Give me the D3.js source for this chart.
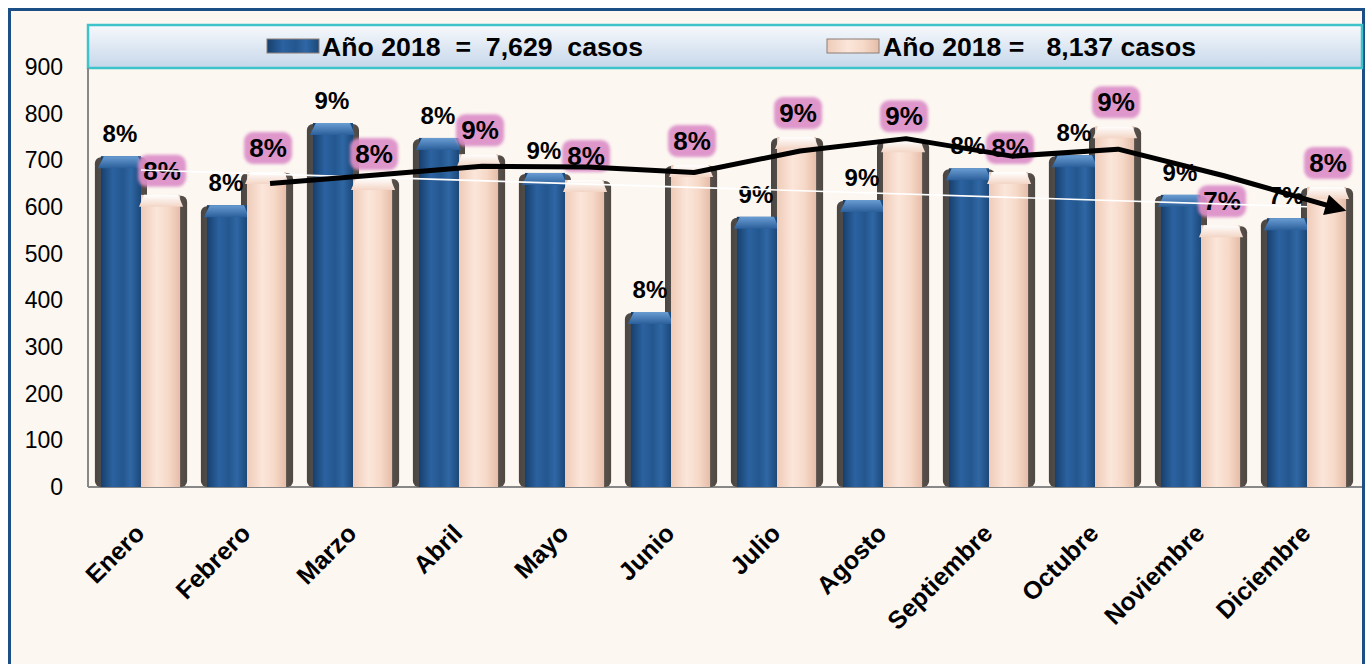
<!DOCTYPE html>
<html lang="es">
<head>
  <meta charset="UTF-8">
  <title>Casos por mes 2018</title>
  <script src="https://d3js.org/d3.v7.min.js"></script>
  <style>
    body { margin: 0; background: #fff; }
    svg { display: block; font-family: "Liberation Sans", Arial, sans-serif; }
    .tick-label { font-size: 23px; fill: #000; text-anchor: end; }
    .month-label { font-size: 25px; font-weight: bold; fill: #000; text-anchor: end; }
    .pct-blue { font-size: 24px; font-weight: bold; fill: #000; text-anchor: middle; }
    .pct-pink { font-size: 26px; font-weight: bold; fill: #000; text-anchor: middle; }
    .legend-text { font-size: 25px; font-weight: bold; fill: #000; white-space: pre; }
  </style>
</head>
<body>
  <svg width="1372" height="664"></svg>

  <script>
    // data
    const months = ["Enero", "Febrero", "Marzo", "Abril", "Mayo", "Junio", "Julio",
      "Agosto", "Septiembre", "Octubre", "Noviembre", "Diciembre"];
    const blueValues = [709, 604, 780, 748, 673, 375, 579, 615, 683, 711, 626, 576];
    const pinkValues = [626, 675, 662, 713, 658, 690, 750, 743, 675, 773, 561, 643];
    const bluePct = ["8%", "8%", "9%", "8%", "9%", "8%", "9%", "9%", "8%", "8%", "9%", "7%"];
    const pinkPct = ["8%", "8%", "8%", "9%", "8%", "8%", "9%", "9%", "8%", "9%", "7%", "8%"];
    const legendLabels = ["Año 2018  =  7,629  casos", "Año 2018 =   8,137 casos"];
    const yTicks = [0, 100, 200, 300, 400, 500, 600, 700, 800, 900];

    const svg = d3.select("svg");
    const plot = { left: 88, right: 1360, top: 67, bottom: 487 };

    const x = d3.scaleBand()
      .domain(months)
      .range([plot.left, plot.right])
      .paddingInner(0.13)
      .paddingOuter(0.065);

    const xs = d3.scaleBand()
      .domain(["blue", "pink"])
      .range([0, x.bandwidth()]);

    const y = d3.scaleLinear()
      .domain([0, 900])
      .range([plot.bottom, plot.top]);

    // gradients and filters
    const defs = svg.append("defs");
    function grad(id, stops, vertical) {
      const g = defs.append("linearGradient").attr("id", id);
      if (vertical) g.attr("x1", 0).attr("x2", 0).attr("y1", 0).attr("y2", 1);
      stops.forEach(s => g.append("stop").attr("offset", s[0]).attr("stop-color", s[1]));
    }
    grad("gBlue", [["0%", "#173f6c"], ["30%", "#2b62a0"], ["55%", "#24578f"], ["75%", "#2f67a5"], ["100%", "#1b4879"]]);
    grad("gBlueTop", [["0%", "#6a9dd2"], ["100%", "#2b5f9b"]], true);
    grad("gPink", [["0%", "#efcbb8"], ["40%", "#fbe6da"], ["70%", "#f6d9c8"], ["100%", "#e6bda9"]]);
    grad("gPinkTop", [["0%", "#ffffff"], ["100%", "#f3d5c5"]], true);
    grad("gShadow", [["0%", "#4a4541"], ["50%", "#6b635d"], ["100%", "#4f4843"]]);
    grad("gLegend", [["0%", "#f7f9fc"], ["100%", "#c6d7ea"]], true);

    defs.append("filter").attr("id", "blur")
      .attr("x", "-30%").attr("y", "-30%").attr("width", "160%").attr("height", "160%")
      .append("feGaussianBlur").attr("stdDeviation", 1.8);

    defs.append("marker")
      .attr("id", "arrow")
      .attr("viewBox", "0 0 10 10")
      .attr("refX", 2).attr("refY", 5)
      .attr("markerWidth", 5).attr("markerHeight", 4.2)
      .attr("orient", "auto")
      .attr("markerUnits", "strokeWidth")
      .append("path")
      .attr("d", "M0,0L10,5L0,10Z")
      .attr("fill", "#000");

    // frame
    svg.append("rect")
      .attr("x", 9.5).attr("y", 9.5)
      .attr("width", 1354).attr("height", 700)
      .attr("fill", "#fcf7f1")
      .attr("stroke", "#1c4f86")
      .attr("stroke-width", 3);

    // legend box
    svg.append("rect")
      .attr("x", 88).attr("y", 25)
      .attr("width", 1274).attr("height", 43)
      .attr("fill", "url(#gLegend)")
      .attr("stroke", "#3ec3ca")
      .attr("stroke-width", 2.5);

    const legendItems = [
      { sx: 267, tx: 322, len: 321, fill: "url(#gBlue)", label: legendLabels[0] },
      { sx: 827, tx: 883, len: 313, fill: "url(#gPink)", label: legendLabels[1] }
    ];
    legendItems.forEach(d => {
      svg.append("rect")
        .attr("x", d.sx).attr("y", 39).attr("width", 52).attr("height", 14)
        .attr("fill", d.fill).attr("stroke", "#8a7f78").attr("stroke-width", 1);
      svg.append("text")
        .attr("class", "legend-text")
        .attr("x", d.tx).attr("y", 56)
        .attr("textLength", d.len)
        .attr("lengthAdjust", "spacingAndGlyphs")
        .text(d.label);
    });

    // axes
    svg.append("line")
      .attr("x1", plot.left).attr("x2", plot.left)
      .attr("y1", 68).attr("y2", plot.bottom)
      .attr("stroke", "#888").attr("stroke-width", 2);
    svg.append("line")
      .attr("x1", plot.left).attr("x2", 1362)
      .attr("y1", plot.bottom).attr("y2", plot.bottom)
      .attr("stroke", "#888").attr("stroke-width", 2);

    svg.selectAll(".tick-label")
      .data(yTicks)
      .join("text")
      .attr("class", "tick-label")
      .attr("x", 63)
      .attr("y", d => y(d) + 8)
      .text(d => d);

    // bars
    const groups = svg.selectAll(".month")
      .data(months)
      .join("g")
      .attr("class", "month")
      .attr("transform", d => `translate(${x(d)},0)`);

    const w = xs.bandwidth();

    groups.each(function (m, i) {
      const g = d3.select(this);
      const bTop = y(blueValues[i]);
      const pTop = y(pinkValues[i]);
      const bx = xs("blue");
      const px = xs("pink");

      // dark cylinder edges behind both bars
      g.append("rect")
        .attr("x", bx).attr("y", bTop + 1)
        .attr("width", w + 6).attr("height", plot.bottom - bTop - 1)
        .attr("rx", 6)
        .attr("fill", "url(#gShadow)");
      g.append("rect")
        .attr("x", px - 6).attr("y", pTop + 1)
        .attr("width", w + 6).attr("height", plot.bottom - pTop - 1)
        .attr("rx", 6)
        .attr("fill", "url(#gShadow)");

      // blue face
      g.append("rect")
        .attr("x", bx + 6).attr("y", bTop)
        .attr("width", w - 6).attr("height", plot.bottom - bTop)
        .attr("fill", "url(#gBlue)");
      g.append("path")
        .attr("d", `M${bx + 3},${bTop + 12}L${bx + 9},${bTop}L${bx + w - 3},${bTop}L${bx + w + 2},${bTop + 12}Z`)
        .attr("fill", "url(#gBlueTop)");

      // pink face
      g.append("rect")
        .attr("x", px).attr("y", pTop)
        .attr("width", w - 7).attr("height", plot.bottom - pTop)
        .attr("fill", "url(#gPink)");
      g.append("path")
        .attr("d", `M${px - 2},${pTop + 12}L${px + 3},${pTop}L${px + w - 9},${pTop}L${px + w - 4},${pTop + 12}Z`)
        .attr("fill", "url(#gPinkTop)");
    });

    // percentage labels
    groups.each(function (m, i) {
      const g = d3.select(this);
      const bc = xs("blue") + w / 2 + 2;
      const pc = xs("pink") + w / 2 - 2;
      const by = y(blueValues[i]) - 22;
      const py = y(pinkValues[i]) - 24;

      g.append("text")
        .attr("class", "pct-blue")
        .attr("x", bc).attr("y", by + 8)
        .text(bluePct[i]);

      g.append("rect")
        .attr("x", pc - 24).attr("y", py - 16)
        .attr("width", 48).attr("height", 32)
        .attr("rx", 9)
        .attr("fill", "#dc8ec8")
        .attr("opacity", 0.92)
        .attr("filter", "url(#blur)");
      g.append("text")
        .attr("class", "pct-pink")
        .attr("x", pc).attr("y", py + 9)
        .text(pinkPct[i]);
    });

    // linear trend of blue series (white)
    const idx = d3.range(months.length);
    const mx = d3.mean(idx), my = d3.mean(blueValues);
    const slope = d3.sum(idx, i => (i - mx) * (blueValues[i] - my)) / d3.sum(idx, i => (i - mx) ** 2);
    const icpt = my - slope * mx;
    const center = m => x(m) + x.bandwidth() / 2;

    svg.append("line")
      .attr("x1", center(months[0]))
      .attr("y1", y(icpt))
      .attr("x2", center(months[months.length - 1]))
      .attr("y2", y(icpt + slope * (months.length - 1)))
      .attr("stroke", "#fff")
      .attr("stroke-width", 1.6);

    // two-period moving average of pink series (black arrow)
    const avgPoints = idx.slice(1).map(i => ({
      x: x(months[i]) + xs("pink") + w / 2,
      v: (pinkValues[i] + pinkValues[i - 1]) / 2
    }));

    svg.append("path")
      .datum(avgPoints)
      .attr("d", d3.line().x(d => d.x).y(d => y(d.v)))
      .attr("fill", "none")
      .attr("stroke", "#000")
      .attr("stroke-width", 5)
      .attr("stroke-linejoin", "round")
      .attr("marker-end", "url(#arrow)");

    // month labels
    svg.selectAll(".month-label")
      .data(months)
      .join("text")
      .attr("class", "month-label")
      .attr("transform", d => `translate(${center(d) + 5},${plot.bottom + 48}) rotate(-45)`)
      .text(d => d);
  </script>
</body>
</html>
